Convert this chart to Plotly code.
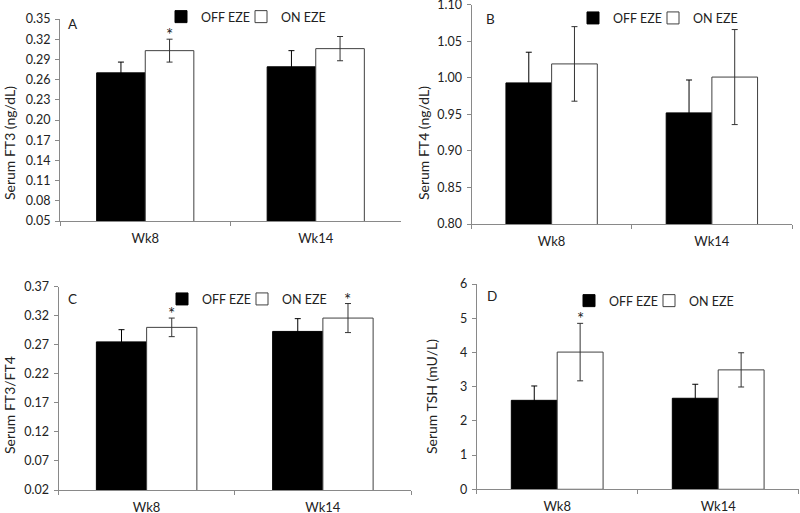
import plotly.graph_objects as go

# ---------------- data ----------------
categories = ["Wk8", "Wk14"]
series_names = ["OFF EZE", "ON EZE"]

ft3_off = [0.270, 0.279]
ft3_off_err = [0.016, 0.024]
ft3_on = [0.303, 0.306]
ft3_on_err = [0.017, 0.018]
ft3_sig = [True, False]

ft4_off = [0.993, 0.952]
ft4_off_err = [0.042, 0.045]
ft4_on = [1.019, 1.001]
ft4_on_err = [0.051, 0.065]
ft4_sig = [False, False]

ratio_off = [0.275, 0.293]
ratio_off_err = [0.021, 0.022]
ratio_on = [0.300, 0.316]
ratio_on_err = [0.016, 0.025]
ratio_sig = [True, True]

tsh_off = [2.60, 2.66]
tsh_off_err = [0.42, 0.41]
tsh_on = [4.01, 3.49]
tsh_on_err = [0.84, 0.50]
tsh_sig = [True, False]

panel_letters = ["A", "B", "C", "D"]
y_titles = ["Serum FT3 (ng/dL)", "Serum FT4 (ng/dL)", "Serum FT3/FT4", "Serum TSH (mU/L)"]
y_ranges = [[0.05, 0.35], [0.80, 1.10], [0.02, 0.37], [0, 6]]
y_dticks = [0.03, 0.05, 0.05, 1]
y_formats = [".2f", ".2f", ".2f", "d"]

# ---------------- layout geometry (pixels) ----------------
W, H = 800, 513
FONT = "Lato, 'Open Sans', sans-serif"
AXIS_COLOR = "#898989"
TEXT_COLOR = "#222222"
bargap = 0.43

# x0, x1, ytop, ybottom for each plot area
areas = [
    (60, 401, 19, 221),
    (471.5, 792, 4.7, 224),
    (58.5, 411, 286.7, 490),
    (476.7, 798.7, 284, 489.3),
]
# left edge of the (OFF, ON) legend squares, and vertical centre
legend_pos = [((187, 245), 17), ((599, 657), 18.3), ((188, 246), 299.3), ((595, 653), 301)]
letter_pos = [(73, 24), (490.5, 19), (72, 299), (492, 296)]
ytitle_pos = [(9, 143), (423, 143), (9, 405), (431, 396)]

panels = [
    (ft3_off, ft3_off_err, ft3_on, ft3_on_err, ft3_sig),
    (ft4_off, ft4_off_err, ft4_on, ft4_on_err, ft4_sig),
    (ratio_off, ratio_off_err, ratio_on, ratio_on_err, ratio_sig),
    (tsh_off, tsh_off_err, tsh_on, tsh_on_err, tsh_sig),
]

fig = go.Figure()
layout = dict(
    width=W, height=H, margin=dict(l=0, r=0, t=0, b=0, autoexpand=False),
    paper_bgcolor="white", plot_bgcolor="white", showlegend=True,
    barmode="group", bargap=bargap, bargroupgap=0,
    font=dict(family=FONT, size=12, color=TEXT_COLOR),
)
annotations = []
LEG_SYMBOL_OFFSET = 13   # px from legend box left edge to its square's left edge
OFF_SHIFT = -13          # OFF entry nudged left
ON_SHIFT = 9             # ON entry nudged right

for i, (off, off_err, on, on_err, sig) in enumerate(panels):
    n = i + 1
    sfx = "" if n == 1 else str(n)
    xa, ya = "x" + sfx, "y" + sfx
    lg_off = "legend" + str(2 * i + 2)
    lg_on = "legend" + str(2 * i + 3)
    x0, x1, yt, yb = areas[i]

    fig.add_trace(go.Bar(
        x=categories, y=off, name=series_names[0], xaxis=xa, yaxis=ya, legend=lg_off,
        marker=dict(color="black", line=dict(color="black", width=1)),
        error_y=dict(type="data", array=off_err, color="black", thickness=1, width=3),
        offsetgroup="off",
    ))
    fig.add_trace(go.Bar(
        x=categories, y=on, name=series_names[1], xaxis=xa, yaxis=ya, legend=lg_on,
        marker=dict(color="white", line=dict(color="#404040", width=1)),
        error_y=dict(type="data", array=on_err, color="#333333", thickness=1, width=3),
        offsetgroup="on",
    ))

    layout["xaxis" + sfx] = dict(
        domain=[x0 / W, x1 / W], anchor=ya, type="category",
        showline=True, linecolor=AXIS_COLOR, linewidth=1,
        ticks="outside", tickson="boundaries", ticklen=4, tickcolor=AXIS_COLOR,
        showgrid=False, zeroline=False, fixedrange=True,
        tickfont=dict(family=FONT, size=13, color=TEXT_COLOR),
        ticklabelstandoff=5, ticklabeloverflow="allow",
    )
    layout["yaxis" + sfx] = dict(
        domain=[(H - yb) / H, (H - yt) / H], anchor=xa,
        range=y_ranges[i], dtick=y_dticks[i], tick0=y_ranges[i][0], tickformat=y_formats[i],
        showline=True, linecolor=AXIS_COLOR, linewidth=1,
        ticks="outside", ticklen=4, tickcolor=AXIS_COLOR,
        showgrid=False, zeroline=False, fixedrange=True,
        tickfont=dict(family=FONT, size=12.5, color=TEXT_COLOR),
        ticklabeloverflow="allow", ticklabelstandoff=2,
    )
    (lx_off, lx_on), ly = legend_pos[i]
    for lg, lx in ((lg_off, lx_off + OFF_SHIFT), (lg_on, lx_on + ON_SHIFT)):
        layout[lg] = dict(
            orientation="h", x=(lx - LEG_SYMBOL_OFFSET) / W, y=(H - ly) / H,
            xanchor="left", yanchor="middle",
            xref="paper", yref="paper", bgcolor="rgba(0,0,0,0)",
            font=dict(family=FONT, size=12.5, color=TEXT_COLOR),
            itemwidth=30, tracegroupgap=0, visible=True,
        )

    # significance asterisks above the ON EZE bars
    offset = (1 - bargap) / 4
    for k, s in enumerate(sig):
        if s:
            annotations.append(dict(
                x=k + offset, y=on[k] + on_err[k], xref=xa, yref=ya,
                text="*", showarrow=False, yanchor="bottom", yshift=-8,
                font=dict(family=FONT, size=17, color=TEXT_COLOR),
            ))

    # panel letter
    px, py = letter_pos[i]
    annotations.append(dict(
        x=px / W, y=(H - py) / H, xref="paper", yref="paper", text=panel_letters[i],
        showarrow=False, xanchor="center", yanchor="middle",
        font=dict(family=FONT, size=13.5, color=TEXT_COLOR),
    ))
    # y axis title
    tx, ty = ytitle_pos[i]
    annotations.append(dict(
        x=tx / W, y=(H - ty) / H, xref="paper", yref="paper", text=y_titles[i],
        showarrow=False, textangle=-90, xanchor="center", yanchor="middle",
        font=dict(family=FONT, size=14, color=TEXT_COLOR),
    ))

layout["annotations"] = annotations
fig.update_layout(**layout)
fig.write_html(
    "out.html",
    config={"displayModeBar": False},
    post_script="document.body.style.margin='0';document.body.style.padding='0';",
)
